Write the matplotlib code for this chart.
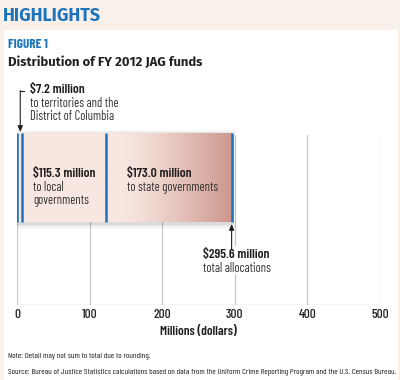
import numpy as np
import matplotlib
matplotlib.use("Agg")
import matplotlib.pyplot as plt
from matplotlib.patches import Rectangle

# ---- data (millions of dollars) ---------------------------------------------
segments = ["territories", "local", "state"]
amounts = [7.2, 115.3, 173.0]
total = 295.6
xticks = [0, 100, 200, 300, 400, 500]

COND = ["Barlow Condensed", "DejaVu Sans"]
SANS = ["Fira Sans", "DejaVu Sans"]
BLUE = "#1b74bd"
INK = "#231f20"
W, H = 400, 380

fig = plt.figure(figsize=(W / 100, H / 100), dpi=100)
fig.patch.set_facecolor("#faf0ea")
# white panel under the header band
fig.add_artist(Rectangle((4 / W, 0), 394 / W, 1 - 30 / H, transform=fig.transFigure,
                         facecolor="white", edgecolor="none", zorder=0))

def fx(px):
    return px / W

def fy(py):
    return 1 - py / H

fig.text(fx(2.5), fy(16), "HIGHLIGHTS", family=SANS, fontsize=12.9, weight="bold",
         color=BLUE, va="center", ha="left")
fig.text(fx(8), fy(45), "FIGURE 1", family=COND, fontsize=9.5, weight="bold",
         color=BLUE, va="center", ha="left")
fig.text(fx(8), fy(62), "Distribution of FY 2012 JAG funds", family=SANS,
         fontsize=9.4, weight="bold", color=INK, va="center", ha="left")

# axes: x in millions, y in pixel rows (inverted) for easy layout
ax = fig.add_axes([fx(17), fy(305), fx(380) - fx(17), (305 - 80) / H])
ax.set_xlim(0, 500)
ax.set_ylim(305, 80)
ax.axis("off")

# gridlines + baseline
for t in xticks:
    ax.plot([t, t], [135, 305], color="#c9c9c9", lw=0.9, zorder=1)
ax.plot([0, 500], [305, 305], color="#bdbdbd", lw=0.9, zorder=1)
for t in xticks:
    ax.text(t, 315, str(t), family=COND, fontsize=9.5, weight=500, color=INK,
            ha="center", va="center")
ax.text(250, 332, "Millions (dollars)", family=COND, fontsize=9.5, weight=600,
        color=INK, ha="center", va="center")

# bar
y0, y1 = 133, 222
yc, hgt = (y0 + y1) / 2, y1 - y0
# soft shadow
for i, a in enumerate([0.05, 0.04, 0.03, 0.02]):
    d = (i + 1) * 1.6
    ax.add_patch(Rectangle((-d * 0.6, y0 - d * 0.6 + 1), total + d * 1.6, hgt + d * 1.6,
                           facecolor="#000000", alpha=a, edgecolor="none", zorder=2))
lefts = np.concatenate([[0], np.cumsum(amounts)[:-1]])
bars = ax.barh([yc] * len(amounts), amounts, left=lefts, height=hgt,
               color="#f8e7e1", edgecolor="none", zorder=3)
# gradient toward the right end
grad = np.linspace(0, 1, 300)
frac = np.clip((grad - 0.48) / 0.52, 0, 1) ** 1.3
c0 = np.array([0xf8, 0xe7, 0xe1]) / 255
c1 = np.array([0xcd, 0x96, 0x8c]) / 255
img = (c0[None, :] * (1 - frac[:, None]) + c1[None, :] * frac[:, None])[None, :, :]
ax.imshow(img, extent=[0, total, y1, y0], aspect="auto", zorder=3.5,
          interpolation="bilinear")
ax.set_xlim(0, 500)
ax.set_ylim(305, 80)

# blue dividers
for xv in [0, amounts[0], amounts[0] + amounts[1], total]:
    ax.plot([xv, xv], [y0, y1], color=BLUE, lw=1.8, zorder=5, solid_capstyle="butt")

# labels inside bar
def label(x, y, head, lines):
    ax.text(x, y, head, family=COND, fontsize=9.8, weight=600, color=INK,
            ha="left", va="center", zorder=6)
    for k, s in enumerate(lines):
        ax.text(x, y + 13.3 * (k + 1), s, family=COND, fontsize=9.0, color="#333333",
                ha="left", va="center", zorder=6)

label(22, 174, f"${amounts[1]:.1f} million", ["to local", "governments"])
label(151.5, 174, f"${amounts[2]:.1f} million", ["to state governments"])
label(17.5, 90, f"${amounts[0]:.1f} million", ["to territories and the", "District of Columbia"])
label(256.5, 255, f"${total:.1f} million", ["total allocations"])

# leader for territories
ax.plot([4.5, 10], [91, 91], color=INK, lw=0.8, zorder=6)
ax.annotate("", xy=(4.5, 132), xytext=(4.5, 90.6),
            arrowprops=dict(arrowstyle="-|>,head_length=0.35,head_width=0.15",
                            color=INK, lw=0.8, shrinkA=0, shrinkB=0), zorder=6)
# leader for total (label sits on white, hiding the 300 gridline)
ax.add_patch(Rectangle((245, 246), 140, 28, facecolor="white", edgecolor="none", zorder=4))
ax.annotate("", xy=(total, 224), xytext=(total, 250),
            arrowprops=dict(arrowstyle="-|>,head_length=0.35,head_width=0.15",
                            color=INK, lw=0.8, shrinkA=0, shrinkB=0), zorder=6)

fig.text(fx(8), fy(357), "Note: Detail may not sum to total due to rounding.",
         family=COND, fontsize=6.1, color=INK, va="center", ha="left")
fig.text(fx(8), fy(372), "Source: Bureau of Justice Statistics calculations based on data from "
         "the Uniform Crime Reporting Program and the U.S. Census Bureau.",
         family=COND, fontsize=6.1, color=INK, va="center", ha="left")

fig.savefig("out.png", dpi=100, facecolor=fig.get_facecolor())
